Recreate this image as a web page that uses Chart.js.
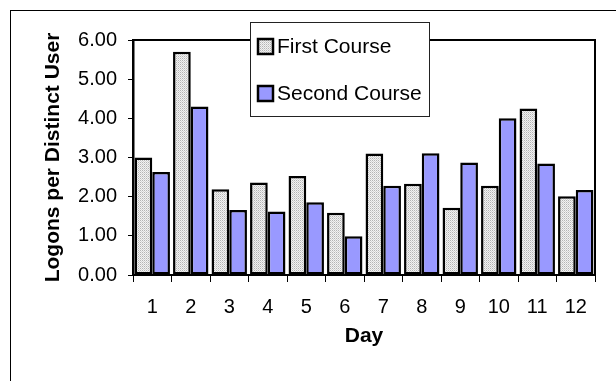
<!DOCTYPE html>
<html>
<head>
<meta charset="utf-8">
<script src="https://cdn.jsdelivr.net/npm/chart.js@4"></script>
<style>
  html, body { margin: 0; padding: 0; background: #fff; }
  #wrap { width: 616px; height: 381px; position: relative; }
</style>
</head>
<body>
<div id="wrap"><canvas id="chart" width="616" height="381"></canvas></div>
<script>
// Logons per distinct user, two courses, 12 days.
const days = ['1', '2', '3', '4', '5', '6', '7', '8', '9', '10', '11', '12'];
const firstCourse = [3.00, 5.70, 2.19, 2.36, 2.53, 1.59, 3.10, 2.33, 1.72, 2.28, 4.25, 2.01];
const secondCourse = [2.63, 4.30, 1.66, 1.62, 1.86, 0.99, 2.28, 3.11, 2.87, 4.00, 2.85, 2.17];
const seriesNames = ['First Course', 'Second Course'];
const yTicks = [0, 1, 2, 3, 4, 5, 6];

const FONT = 'Liberation Sans, Arial, Helvetica, sans-serif';

// dotted light-grey fill like the old Excel pattern
function dotPattern() {
  const c = document.createElement('canvas');
  c.width = 2; c.height = 2;
  const g = c.getContext('2d');
  g.fillStyle = '#f2f2f2';
  g.fillRect(0, 0, 2, 2);
  g.fillStyle = '#b4b4b4';
  g.fillRect(0, 0, 1, 1);
  g.fillStyle = '#d4d4d4';
  g.fillRect(1, 1, 1, 1);
  return g.createPattern(c, 'repeat');
}
const firstFill = dotPattern();
const secondFill = '#9999ff';

// outer frame + top/right plot border
const framePlugin = {
  id: 'frame',
  beforeDraw(chart) {
    const ctx = chart.ctx;
    ctx.save();
    ctx.strokeStyle = '#000';
    ctx.lineWidth = 1;
    ctx.strokeRect(10.5, 10.5, 800, 600);
    ctx.restore();
  },
  afterDatasetsDraw(chart) {
    const { ctx, chartArea: a } = chart;
    ctx.save();
    ctx.strokeStyle = '#000';
    ctx.lineWidth = 2;
    ctx.beginPath();
    ctx.moveTo(a.left, a.top);
    ctx.lineTo(a.right, a.top);
    ctx.lineTo(a.right, a.bottom);
    ctx.stroke();
    ctx.restore();
  },
};

// boxed legend sitting over the top edge of the plot
const boxLegend = {
  id: 'boxLegend',
  afterDraw(chart) {
    const ctx = chart.ctx;
    const x = 250, y = 22, w = 179, h = 94;
    ctx.save();
    ctx.fillStyle = '#fff';
    ctx.fillRect(x, y, w, h);
    ctx.strokeStyle = '#222';
    ctx.lineWidth = 1;
    ctx.strokeRect(x + 0.5, y + 0.5, w, h);
    ctx.font = '21px ' + FONT;
    ctx.textBaseline = 'middle';
    chart.data.datasets.forEach((ds, i) => {
      const cy = 46 + i * 47;
      ctx.fillStyle = ds.backgroundColor;
      ctx.fillRect(258, cy - 7, 15, 15);
      ctx.strokeStyle = '#000';
      ctx.lineWidth = 2.5;
      ctx.strokeRect(258, cy - 7, 15, 15);
      ctx.fillStyle = '#000';
      ctx.fillText(ds.label, 277, cy + 1);
    });
    ctx.restore();
  },
};

new Chart(document.getElementById('chart'), {
  type: 'bar',
  data: {
    labels: days,
    datasets: [
      {
        label: seriesNames[0],
        data: firstCourse,
        backgroundColor: firstFill,
        borderColor: '#000',
        borderWidth: 2.5,
        borderSkipped: false,
      },
      {
        label: seriesNames[1],
        data: secondCourse,
        backgroundColor: secondFill,
        borderColor: '#000',
        borderWidth: 2.5,
        borderSkipped: false,
      },
    ],
  },
  options: {
    responsive: false,
    animation: false,
    devicePixelRatio: 1,
    categoryPercentage: 0.92,
    barPercentage: 1.0,
    layout: { padding: { top: 40, right: 21, left: 0, bottom: 0 } },
    plugins: {
      legend: { display: false },
      tooltip: { enabled: false },
    },
    scales: {
      x: {
        grid: { display: true, drawOnChartArea: false, drawTicks: true, tickLength: 7, color: '#000', offset: true },
        border: { display: true, color: '#000', width: 2 },
        ticks: { color: '#000', padding: 13, font: { family: FONT, size: 20 }, maxRotation: 0 },
        title: { display: true, text: 'Day', color: '#000', font: { family: FONT, size: 21, weight: 'bold' }, padding: { top: 0, bottom: 32 } },
        afterFit: (s) => { s.height = 106; },
      },
      y: {
        min: yTicks[0],
        max: yTicks[yTicks.length - 1],
        afterBuildTicks: (s) => { s.ticks = yTicks.map((v) => ({ value: v })); },
        grid: { display: true, drawOnChartArea: false, drawTicks: true, tickLength: 5, color: '#000' },
        border: { display: true, color: '#000', width: 2.5 },
        ticks: { color: '#000', padding: 11, font: { family: FONT, size: 20 }, callback: (v) => Number(v).toFixed(2) },
        title: { display: true, text: 'Logons per Distinct User', color: '#000', font: { family: FONT, size: 21, weight: 'bold' }, padding: { top: 41, bottom: 0 } },
        afterFit: (s) => { s.width = 133; },
      },
    },
  },
  plugins: [framePlugin, boxLegend],
});
</script>
</body>
</html>
